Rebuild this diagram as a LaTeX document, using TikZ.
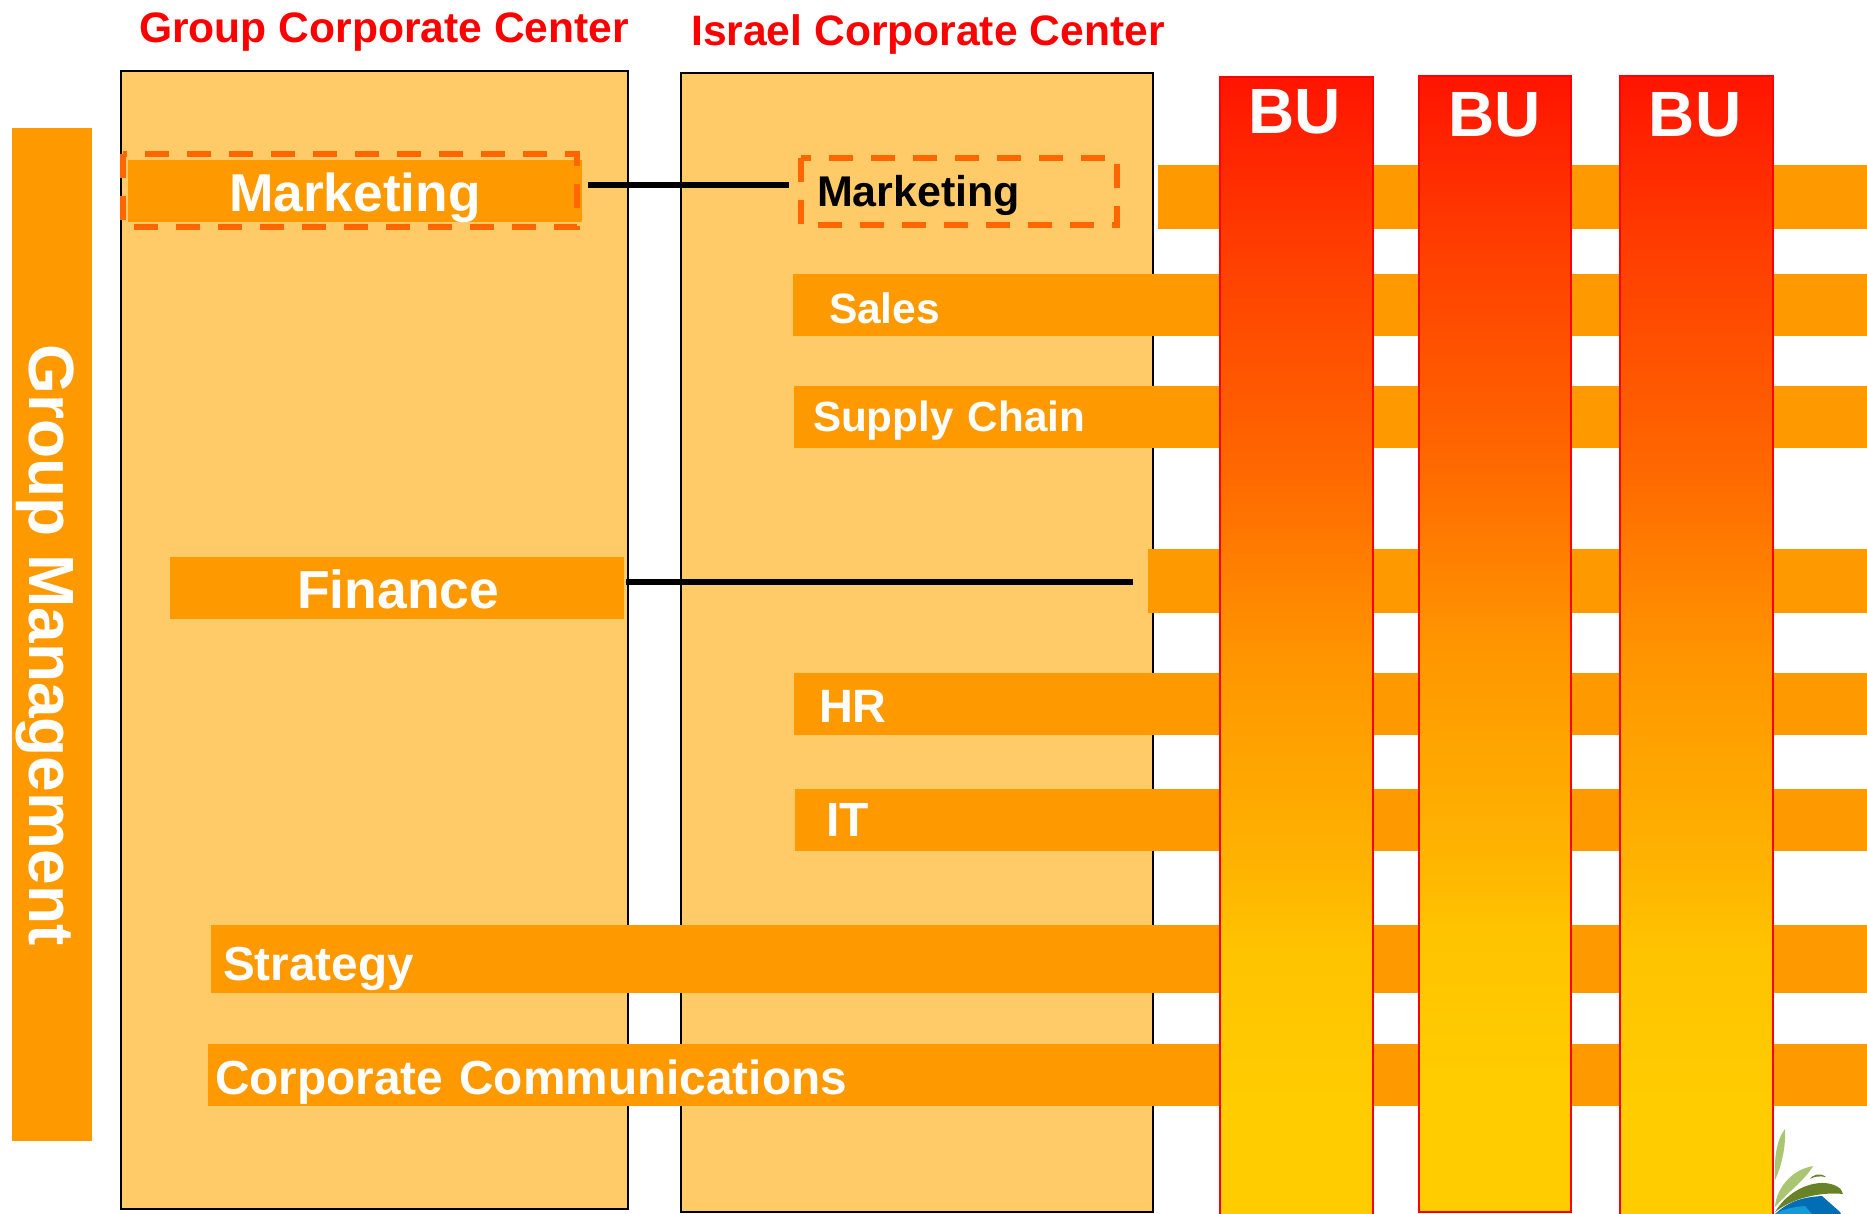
\documentclass[tikz,border=0pt]{standalone}
\usepackage{fontspec}
\setmainfont{Liberation Sans}
\definecolor{panelfill}{RGB}{255,203,105}
\definecolor{bandfill}{RGB}{255,153,0}
\definecolor{dashcol}{RGB}{255,102,0}
\definecolor{leaflight}{RGB}{170,198,115}
\definecolor{leafdark}{RGB}{105,130,40}
\definecolor{logoblue}{RGB}{0,110,180}
\definecolor{logocyan}{RGB}{20,155,215}
\definecolor{gza}{RGB}{255,204,0}
\definecolor{gzb}{RGB}{255,195,0}
\definecolor{gzc}{RGB}{255,178,0}
\definecolor{gzd}{RGB}{255,150,0}
\definecolor{gze}{RGB}{255,102,0}
\definecolor{gzf}{RGB}{255,64,0}
\definecolor{gzg}{RGB}{255,20,0}
% the path covers the middle 25bp..75bp of the shading
\pgfdeclareverticalshading{bugrad}{100bp}{
  color(0bp)=(gza);
  color(31bp)=(gza);
  color(37.5bp)=(gzb);
  color(41.3bp)=(gzc);
  color(49.9bp)=(gzd);
  color(58.5bp)=(gze);
  color(67.1bp)=(gzf);
  color(75bp)=(gzg);
  color(100bp)=(gzg)}
\newcommand{\fs}[1]{\fontsize{#1}{#1}\selectfont\bfseries}
% baseline placed #1 below the centre of the node
\newcommand{\bl}[2]{\raisebox{-#1pt}[0pt][0pt]{#2}}
% \rnode[style]{name}{x1}{y1}{x2}{y2}{inset}{text}
\newcommand{\rnode}[8][]{%
  \pgfmathsetmacro{\rh}{#6-#4}%
  \pgfmathsetmacro{\rcx}{(#3+#5)/2}\pgfmathsetmacro{\rcy}{(#4+#6)/2}%
  \pgfmathsetmacro{\rtw}{#5-#3-2*#7}%
  \node[#1,outer sep=0pt,minimum height=\rh pt,inner xsep=#7 pt,inner ysep=0pt,text width=\rtw pt,align=left] (#2) at (\rcx,\rcy) {#8};}
\tikzset{
  x=1pt,y=-1pt,
  panel/.style={draw=black,line width=2.3pt,fill=panelfill},
  band/.style={fill=bandfill,text=white},
  bucol/.style={draw=red,line width=2pt,shading=bugrad},
  dashline/.style={draw=dashcol,line width=5.5pt,dash pattern=on 24pt off 18pt},
  link/.style={draw=black,line width=5.5pt},
  title/.style={text=red,inner sep=0pt,font=\fs{42.6}},
  bulabel/.style={text=white,inner sep=0pt,font=\fs{64}}
}
\begin{document}
\begin{tikzpicture}
\useasboundingbox (0,0) rectangle (1867,1214);
% panels
\rnode[panel]{groupcc}{121}{71}{628}{1209}{0}{}
\rnode[panel]{israelcc}{681}{73}{1153}{1212}{0}{}
% titles
\node[title,anchor=base west] (tgroup) at (139,43) {Group Corporate Center};
\node[title,anchor=base west] (tisrael) at (691,46) {Israel Corporate Center};
% group management
\rnode[band]{gm}{12}{128}{92}{1141}{0}{}
\node[text=white,inner sep=0pt,font=\fs{64},rotate=-90] (tgm) at (45,645) {Group Management};
% left column bands
\rnode[band,font=\fs{53.3}]{mktleft}{128}{160}{582}{222}{101}{\bl{21}{Marketing}}
\rnode[band,font=\fs{53.5}]{finleft}{170}{557}{624}{619}{127}{\bl{20}{Finance}}
% dashed boxes
\rnode[]{dashleft}{123}{154}{577}{227}{0}{}
\rnode[text=black,font=\fs{43}]{dashright}{801}{158}{1117}{225}{16}{\bl{15}{Marketing}}
\draw[dashline] (dashleft.north west) -- (dashleft.south west) -- (dashleft.south east) -- (dashleft.north east) -- cycle;
\draw[dashline] (dashright.north west) -- (dashright.south west) -- (dashright.south east) -- (dashright.north east) -- cycle;
% long bands
\rnode[band]{bmkt}{1158}{165}{1867}{229}{0}{}
\rnode[band,font=\fs{42.5}]{bsales}{793}{274}{1867}{336}{36}{\bl{19}{Sales}}
\rnode[band,font=\fs{42.2}]{bsupply}{794}{386}{1867}{448}{19}{\bl{14}{Supply Chain}}
\rnode[band]{bfin}{1148}{549}{1867}{613}{0}{}
\rnode[band,font=\fs{46.8}]{bhr}{794}{673}{1867}{735}{25}{\bl{18}{HR}}
\rnode[band,font=\fs{48}]{bit}{795}{789}{1867}{851}{31}{\bl{16}{IT}}
\rnode[band,font=\fs{47.7}]{bstrat}{211}{925}{1867}{993}{12}{\bl{21}{Strategy}}
\rnode[band,font=\fs{47.8}]{bcomm}{208}{1044}{1867}{1106}{7}{\bl{19}{Corporate Communications}}
% connectors
\coordinate (ya) at (0,185);
\coordinate (yb) at (0,582);
\draw[link,shorten <=11pt,shorten >=12pt] (dashleft.east |- ya) -- (dashright.west |- ya);
\draw[link,shorten <=2pt,shorten >=15pt] (finleft.east |- yb) -- (bfin.west |- yb);
% BU columns
\rnode[bucol]{buone}{1220}{77}{1373}{1240}{0}{}
\rnode[bucol]{butwo}{1419}{76}{1571}{1212}{0}{}
\rnode[bucol]{buthree}{1620}{76}{1773}{1240}{0}{}
\node[bulabel,anchor=base] (luone) at (1294.5,134) {BU};
\node[bulabel,anchor=base] (lutwo) at (1494.5,137) {BU};
\node[bulabel,anchor=base] (luthree) at (1695,137) {BU};
% logo fragment
\fill[leaflight] (1775,1180) .. controls (1774,1160) and (1776,1140) .. (1785,1129) .. controls (1786,1145) and (1782,1165) .. (1775,1180) -- cycle;
\fill[leaflight] (1775,1207) .. controls (1776,1190) and (1790,1170) .. (1813,1166) .. controls (1805,1180) and (1790,1190) .. (1775,1207) -- cycle;
\fill[leafdark] (1775,1212) .. controls (1785,1195) and (1805,1182) .. (1825,1183) .. controls (1835,1184) and (1842,1188) .. (1843,1194) .. controls (1825,1192) and (1795,1196) .. (1775,1212) -- cycle;
\fill[leafdark] (1810,1179) .. controls (1812,1175) and (1820,1172) .. (1826,1177) .. controls (1820,1176) and (1815,1176) .. (1810,1179) -- cycle;
\fill[logoblue] (1775,1214) .. controls (1790,1200) and (1805,1197) .. (1822,1196) -- (1840,1212) -- (1841,1214) -- cycle;
\fill[logocyan] (1775,1214) .. controls (1785,1208) and (1795,1207) .. (1805,1206) -- (1812,1214) -- cycle;
\end{tikzpicture}
\end{document}
